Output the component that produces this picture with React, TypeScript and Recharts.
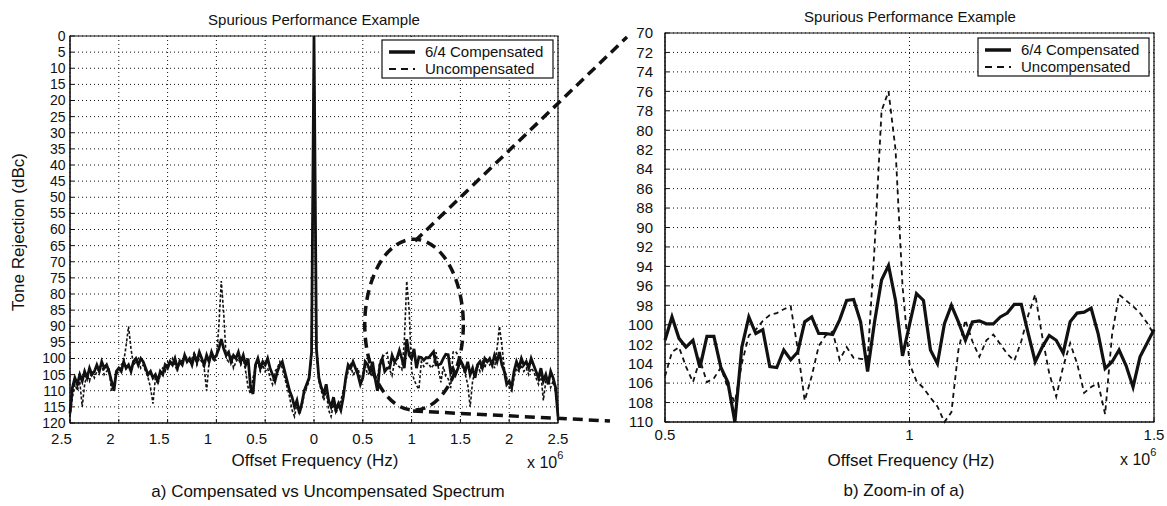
import { LineChart, Line, XAxis, YAxis, CartesianGrid, ReferenceArea } from 'recharts'

const FONT = "'Liberation Sans', Arial, Helvetica, sans-serif"
const INK = '#111'

const TITLE = 'Spurious Performance Example'
const SERIES_NAMES = ['6/4 Compensated', 'Uncompensated']

// full span: FFT bins every 0.025 MHz from -2.5 to 2.5 (x 10^6 Hz)
const SPAN_START = -2.5
const SPAN_STEP = 0.025

// tone rejection (dBc) read off panel a)
const COMP_DB = [
  117, 109, 106, 108, 105, 107, 104, 106, 103, 105,
  104, 102, 104, 101, 103, 102, 104, 107, 110, 104,
  103, 104, 101, 103, 102, 104, 101, 100, 102, 100,
  101, 103, 105, 104, 106, 105, 107, 104, 105, 102,
  103, 101, 102, 100, 103, 101, 102, 99, 101, 100,
  102, 99, 101, 98, 100, 102, 99, 101, 98, 100,
  99, 97, 94, 97, 99, 98, 101, 99, 100, 98,
  101, 99, 102, 100, 109, 111, 102, 100, 103, 101,
  102, 100, 103, 105, 107, 104, 102, 101, 104, 107,
  110, 112, 115, 113, 117, 114, 110, 108, 106, 98,
  0,
  97, 106, 109, 111, 108, 113, 115, 112, 116, 114,
  116, 112, 106, 102, 103, 101, 103, 105, 108, 106,
  101, 102, 104, 101, 106, 110, 102, 100, 104, 103,
  103, 99, 101, 100, 97.5, 100, 103, 94, 99, 100,
  97, 103, 99.5, 99.7, 100.5, 99.7, 99.8, 98.8, 97.9, 102,
  102, 101.6, 100, 98.7, 98.8, 104.5, 103, 105, 103, 100.5,
  102, 104, 101, 105, 103, 106, 102, 101, 103, 100,
  101, 100, 102, 99, 101, 98, 102, 104, 108, 107,
  109, 104, 101, 103, 100, 102, 101, 103, 100, 102,
  104, 106, 103, 107, 105, 108, 104, 106, 109, 118,
]

const UNCOMP_DB = [
  118, 112, 108, 110, 107, 115, 108, 105, 107, 104,
  106, 104, 103, 102, 105, 104, 103, 110, 108, 105,
  104, 102, 101, 96, 90, 97, 102, 101, 100, 103,
  102, 104, 106, 109, 114, 106, 108, 105, 103, 104,
  101, 102, 100, 102, 104, 100, 101, 99, 100, 101,
  100, 98, 102, 100, 101, 103, 110, 101, 99, 101,
  100, 90, 76, 86, 100, 101, 99, 103, 101, 100,
  102, 100, 104, 109, 111, 106, 103, 101, 104, 102,
  104, 103, 106, 108, 104, 103, 101, 103, 106, 109,
  112, 116, 118, 114, 117, 115, 111, 109, 107, 99,
  0,
  98, 107, 110, 113, 110, 116, 118, 114, 117, 115,
  113, 110, 107, 104, 102, 105, 104, 103, 106, 105.3,
  102.4, 105, 104.2, 105.5, 106, 106, 101, 99.6, 98.8, 98.2,
  103.5, 105.3, 101, 102, 102.6, 103.5, 95, 76, 85, 104,
  106.5, 108.4, 109.5, 101, 102.5, 101.5, 101.5, 103, 102, 98,
  103, 107.4, 102.5, 105.5, 106.3, 109.2, 98, 97.8, 98.9, 101,
  103, 105, 108, 115, 107, 104, 102, 104, 101, 103,
  100, 102, 101, 103, 97, 90, 96, 103, 106, 109,
  110, 106, 103, 104, 102, 104, 103, 105, 103, 104,
  106, 108, 105, 113, 107, 106, 109, 107, 110, 117,
]

// zoom: bins every 1/70 MHz from 0.5 to 1.5
const ZOOM_START = 0.5
const ZOOM_STEP = 1 / 70

const ZOOM_COMP_DB = [
  101.6, 99.2, 101.4, 102.3, 101.6, 104.4, 101.2, 101.2, 104.4, 105.9,
  110, 102.3, 99.2, 100.9, 100.5, 104.3, 104.4, 102.6, 103.6, 102.8,
  99.7, 99.2, 100.9, 100.9, 101, 99.5, 97.5, 97.4, 99.7, 104.8,
  99.7, 95.4, 93.9, 97.5, 103.2, 100, 96.8, 97.5, 102.6, 104,
  99.9, 98, 99.7, 101.6, 99.7, 99.6, 99.9, 99.9, 99.2, 98.8,
  97.9, 97.9, 100.9, 103.8, 102.3, 101.1, 101.6, 102.9, 99.7, 98.8,
  98.7, 98.3, 100.9, 104.5, 103.8, 102.6, 104.2, 106.4, 103.3, 101.9,
  100.5,
]

const ZOOM_UNCOMP_DB = [
  105.3, 102.8, 102.3, 104.3, 105.9, 103.6, 105.9, 105.5, 104.4, 106.5,
  108, 104, 101.1, 100.5, 99.6, 99, 98.8, 98.4, 98.1, 102.5,
  107.8, 105.3, 102.2, 101.1, 100.7, 103.6, 102.3, 103.4, 103.5, 103.6,
  92, 78, 76, 82, 96, 104, 105.8, 106.5, 107.5, 108.4,
  110, 109, 102.6, 99.5, 101.7, 103.3, 101.6, 101, 102, 103,
  103.7, 101.7, 99, 96.9, 101.2, 105, 107.4, 104.3, 101.9, 104,
  107, 106.4, 106, 109.2, 101, 96.9, 97.5, 98.1, 98.8, 99.8,
  101,
]

const SPAN_X_TICKS = [-2.5, -2, -1.5, -1, -0.5, 0, 0.5, 1, 1.5, 2, 2.5]
const SPAN_Y_TICKS = [0, 5, 10, 15, 20, 25, 30, 35, 40, 45, 50, 55, 60, 65, 70, 75, 80, 85, 90, 95, 100, 105, 110, 115, 120]
const ZOOM_X_TICKS = [0.5, 1, 1.5]
const ZOOM_Y_TICKS = [70, 72, 74, 76, 78, 80, 82, 84, 86, 88, 90, 92, 94, 96, 98, 100, 102, 104, 106, 108, 110]

const tickStyle = { fill: INK, fontSize: 15, fontFamily: FONT }
const spanYTickStyle = { fill: INK, fontSize: 14, fontFamily: FONT }

// the left axis shows magnitudes only; negative labels sit a little left of their tick
function SpanTick(props: any) {
  const { x, y, payload } = props
  const v = payload.value as number
  return (
    <text x={x + (v < 0 ? -8.5 : 0)} y={y} dy="0.75em" textAnchor="middle" fill={INK} fontSize={15} fontFamily={FONT}>
      {String(Math.abs(v))}
    </text>
  )
}

function Ellipse(props: any) {
  const { x, y, width, height } = props
  const w = Math.abs(width)
  const h = Math.abs(height)
  const left = width < 0 ? x + width : x
  const top = height < 0 ? y + height : y
  return (
    <ellipse cx={left + w / 2} cy={top + h / 2} rx={w / 2} ry={h / 2} fill="none" stroke={INK} strokeWidth={3.5} strokeDasharray="10 6" />
  )
}

function LegendBox({ x, y }: { x: number; y: number }) {
  return (
    <g>
      <rect x={x} y={y} width={171} height={38} fill="#fff" stroke={INK} strokeWidth={1.2} />
      <line x1={x + 7} x2={x + 33} y1={y + 12} y2={y + 12} stroke={INK} strokeWidth={3.5} />
      <line x1={x + 7} x2={x + 33} y1={y + 29} y2={y + 29} stroke={INK} strokeWidth={2} strokeDasharray="7 5" />
      <text x={x + 43} y={y + 17} fontSize={15} fill={INK}>{SERIES_NAMES[0]}</text>
      <text x={x + 43} y={y + 34} fontSize={15} fill={INK}>{SERIES_NAMES[1]}</text>
    </g>
  )
}

export default function App() {
  const spanRows = COMP_DB.map((v, i) => ({ f: SPAN_START + i * SPAN_STEP, comp: v, uncomp: UNCOMP_DB[i] }))
  const zoomRows = ZOOM_COMP_DB.map((v, i) => ({ f: ZOOM_START + i * ZOOM_STEP, comp: v, uncomp: ZOOM_UNCOMP_DB[i] }))

  return (
    <div style={{ position: 'absolute', left: 0, top: 0, width: 1167, height: 506, background: '#fff', fontFamily: FONT }}>
      <div style={{ position: 'absolute', left: 0, top: 0 }}>
        <LineChart width={600} height={506} data={spanRows} margin={{ top: 36, right: 42, bottom: 53, left: 0 }}>
          <CartesianGrid stroke={INK} strokeDasharray="1 3" />
          <XAxis dataKey="f" type="number" domain={[-2.5, 2.5]} ticks={SPAN_X_TICKS} interval={0} tick={(p: any) => <SpanTick {...p} />} tickSize={-4} tickMargin={14} height={30} stroke={INK} />
          <XAxis xAxisId="top" orientation="top" type="number" domain={[-2.5, 2.5]} ticks={SPAN_X_TICKS} interval={0} tick={false} tickSize={-4} height={0} stroke={INK} />
          <YAxis type="number" domain={[0, 120]} reversed ticks={SPAN_Y_TICKS} interval={0} tick={spanYTickStyle} tickSize={-4} tickMargin={8.5} width={70} stroke={INK} />
          <YAxis yAxisId="right" orientation="right" type="number" domain={[0, 120]} reversed ticks={SPAN_Y_TICKS} interval={0} tick={false} tickSize={-4} width={0} stroke={INK} />
          <Line dataKey="uncomp" name={SERIES_NAMES[1]} type="linear" stroke={INK} strokeWidth={1.6} strokeDasharray="3 2" dot={false} isAnimationActive={false} />
          <Line dataKey="comp" name={SERIES_NAMES[0]} type="linear" stroke={INK} strokeWidth={2.8} dot={false} isAnimationActive={false} />
          <ReferenceArea x1={-2.5} x2={2.5} y1={0} y2={120} fill="none" stroke={INK} strokeWidth={1.2} />
          <ReferenceArea x1={0.52} x2={1.53} y1={63} y2={116} shape={(p: any) => <Ellipse {...p} />} />
        </LineChart>
      </div>
      <div style={{ position: 'absolute', left: 600, top: 0 }}>
        <LineChart width={567} height={506} data={zoomRows} margin={{ top: 33, right: 13, bottom: 54, left: 0 }}>
          <CartesianGrid stroke={INK} strokeDasharray="1 3" />
          <XAxis dataKey="f" type="number" domain={[0.5, 1.5]} ticks={ZOOM_X_TICKS} interval={0} tick={tickStyle} tickSize={-4} tickMargin={11} height={30} stroke={INK} />
          <XAxis xAxisId="top" orientation="top" type="number" domain={[0.5, 1.5]} ticks={ZOOM_X_TICKS} interval={0} tick={false} tickSize={-4} height={0} stroke={INK} />
          <YAxis type="number" domain={[70, 110]} reversed ticks={ZOOM_Y_TICKS} interval={0} tick={tickStyle} tickSize={-4} tickMargin={16} width={65} stroke={INK} />
          <YAxis yAxisId="right" orientation="right" type="number" domain={[70, 110]} reversed ticks={ZOOM_Y_TICKS} interval={0} tick={false} tickSize={-4} width={0} stroke={INK} />
          <Line dataKey="uncomp" name={SERIES_NAMES[1]} type="linear" stroke={INK} strokeWidth={1.8} strokeDasharray="5 4" dot={false} isAnimationActive={false} />
          <Line dataKey="comp" name={SERIES_NAMES[0]} type="linear" stroke={INK} strokeWidth={3.2} dot={false} isAnimationActive={false} />
          <ReferenceArea x1={0.5} x2={1.5} y1={70} y2={110} fill="none" stroke={INK} strokeWidth={1.2} />
        </LineChart>
      </div>
      <svg width={1167} height={506} style={{ position: 'absolute', left: 0, top: 0, pointerEvents: 'none' }} fontFamily={FONT}>
        <text x={314} y={25} textAnchor="middle" fontSize={15} fill={INK}>{TITLE}</text>
        <text x={910} y={22} textAnchor="middle" fontSize={15} fill={INK}>{TITLE}</text>
        <text transform="translate(24,232) rotate(-90)" textAnchor="middle" fontSize={17} fill={INK}>Tone Rejection (dBc)</text>
        <text x={315} y={466} textAnchor="middle" fontSize={17} fill={INK}>Offset Frequency (Hz)</text>
        <text x={911} y={466} textAnchor="middle" fontSize={17} fill={INK}>Offset Frequency (Hz)</text>
        <text x={527} y={468} fontSize={16} fill={INK}>x 10<tspan dy={-9} fontSize={11}>6</tspan></text>
        <text x={1120} y={465} fontSize={16} fill={INK}>x 10<tspan dy={-9} fontSize={11}>6</tspan></text>
        <text x={328} y={497} textAnchor="middle" fontSize={17} fill={INK}>a) Compensated vs Uncompensated Spectrum</text>
        <text x={904} y={496} textAnchor="middle" fontSize={17} fill={INK}>b) Zoom-in of a)</text>
        <LegendBox x={382} y={40} />
        <LegendBox x={978} y={38} />
        <line x1={415} y1={241} x2={627} y2={37} stroke={INK} strokeWidth={3.5} strokeDasharray="10 6" />
        <line x1={413} y1={411} x2={610} y2={421} stroke={INK} strokeWidth={3.5} strokeDasharray="10 6" />
      </svg>
    </div>
  )
}
